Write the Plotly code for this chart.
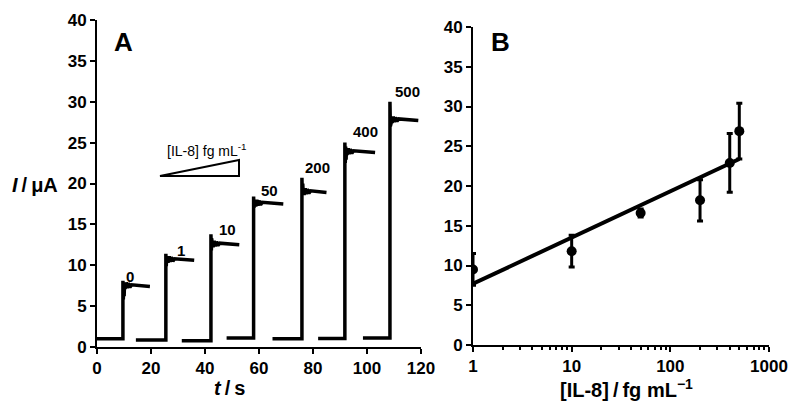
import plotly.graph_objects as go

# ---------------- Panel A data (amperometric steps) ----------------
step_labels = ["0", "1", "10", "50", "200", "400", "500"]
step_start = [0.0, 14.4, 31.4, 48.0, 65.0, 81.9, 98.5]      # s, baseline begins
step_jump = [9.6, 25.5, 42.2, 58.0, 75.9, 91.8, 108.5]      # s, injection
step_end = [19.6, 36.0, 52.7, 69.0, 85.0, 103.0, 119.0]     # s, plateau ends
base_level = [1.0, 0.85, 0.75, 1.1, 1.0, 1.05, 1.1]         # µA
peak_level = [8.1, 11.4, 13.8, 18.4, 20.7, 25.0, 30.0]      # µA
dip_level = [5.8, 9.9, 11.8, 17.0, 18.6, 22.5, 27.0]        # µA
plateau_level = [7.4, 10.6, 12.5, 17.5, 18.9, 23.8, 27.7]   # µA
label_t = [12.4, 31.0, 48.5, 64.0, 81.5, 99.6, 115.0]
label_I = [8.6, 11.8, 14.4, 19.1, 21.9, 26.4, 31.3]

# ---------------- Panel B data (calibration) ----------------
conc = [1, 10, 50, 200, 400, 500]                 # fg/mL
current = [9.5, 11.8, 16.6, 18.2, 22.9, 26.9]     # µA
err = [2.0, 2.0, 0.5, 2.6, 3.7, 3.5]
fit_x = [1, 500]
fit_y = [7.7, 23.4]
log_major = [1, 10, 100, 1000]
log_minor = [m * d for d in (1, 10, 100) for m in range(2, 10)]

fig = go.Figure()

# build traces for panel A
for i in range(len(step_start)):
    j = step_jump[i]
    p = plateau_level[i]
    t = [step_start[i], j, j, j + 0.15, j + 0.3, j + 0.45, j + 0.6, j + 0.8,
         j + 1.2, j + 1.6, j + 2.0, j + 2.6, j + 3.2, step_end[i]]
    y = [base_level[i], base_level[i], peak_level[i], dip_level[i],
         p + 0.6 * (peak_level[i] - p), dip_level[i] + 0.4, p + 0.5, p - 0.3,
         p + 0.5, p - 0.2, p + 0.4, p - 0.1, p + 0.2, p]
    fig.add_trace(go.Scatter(x=t, y=y, mode="lines",
                             line=dict(color="black", width=3.5),
                             xaxis="x", yaxis="y", showlegend=False,
                             hoverinfo="skip"))

for lab, lt, li in zip(step_labels, label_t, label_I):
    fig.add_annotation(x=lt, y=li, xref="x", yref="y", text=lab,
                       showarrow=False, xanchor="center", yanchor="middle",
                       font=dict(family="Liberation Sans", size=15,
                                 color="black", weight="bold"))

# panel B
fig.add_trace(go.Scatter(x=fit_x, y=fit_y, mode="lines",
                         line=dict(color="black", width=4),
                         xaxis="x2", yaxis="y2", showlegend=False))
fig.add_trace(go.Scatter(x=conc, y=current, mode="markers",
                         marker=dict(color="black", size=10),
                         error_y=dict(type="data", array=err, color="black",
                                      thickness=3, width=3),
                         xaxis="x2", yaxis="y2", showlegend=False))

axis_common = dict(showline=True, linecolor="black", linewidth=2,
                   ticks="outside", ticklen=5, tickwidth=2,
                   tickcolor="black", showgrid=False, zeroline=False,
                   mirror=False, automargin=False,
                   tickfont=dict(family="Liberation Sans", size=17,
                                 color="black", weight="bold"))

fig.update_layout(
    width=800, height=410,
    margin=dict(l=0, r=0, t=0, b=0),
    paper_bgcolor="white", plot_bgcolor="white",
    xaxis=dict(domain=[97 / 800, 421 / 800], range=[0, 120],
               tickvals=[0, 20, 40, 60, 80, 100, 120], anchor="y",
               **axis_common),
    yaxis=dict(domain=[1 - 347 / 410, 1 - 20 / 410], range=[0, 40],
               tickvals=[0, 5, 10, 15, 20, 25, 30, 35, 40], anchor="x",
               **axis_common),
    xaxis2=dict(domain=[473 / 800, 769 / 800], type="log", range=[0, 3],
                tickvals=log_major, ticktext=[str(v) for v in log_major],
                anchor="y2",
                minor=dict(ticks="outside", ticklen=3, tickwidth=1.5,
                           tickcolor="black", showgrid=False,
                           tickvals=log_minor),
                **axis_common),
    yaxis2=dict(domain=[1 - 345 / 410, 1 - 27 / 410], range=[0, 40],
                tickvals=[0, 5, 10, 15, 20, 25, 30, 35, 40], anchor="x2",
                **axis_common),
)

title_font = dict(family="Liberation Sans", size=20, color="black", weight="bold")


def paper_text(px, py, text, font):
    fig.add_annotation(x=px / 800, y=1 - py / 410, xref="paper", yref="paper",
                       text=text, showarrow=False, xanchor="center",
                       yanchor="middle", font=font)


letter_font = dict(family="Liberation Sans", size=26, color="black", weight="bold")
paper_text(123, 42, "A", letter_font)
paper_text(500, 42, "B", letter_font)
paper_text(35, 185, "<i>I</i>\u2009/\u2009μA", title_font)
paper_text(230, 388, "<i>t</i>\u2009/\u2009s", title_font)
paper_text(626, 388, "[IL-8]\u2009/\u2009fg mL<sup>−1</sup>", title_font)
paper_text(207, 150, "[IL-8] fg mL<sup>-1</sup>",
           dict(family="Liberation Sans", size=14, color="black"))

# concentration wedge legend
fig.add_shape(type="path", xref="paper", yref="paper",
              path=f"M {160/800} {1-176/410} L {239/800} {1-176/410} L {239/800} {1-160/410} Z",
              line=dict(color="black", width=2), fillcolor="rgba(0,0,0,0)")

fig.write_html("out.html", config={"displayModeBar": False},
               post_script="document.body.style.margin='0px';")
